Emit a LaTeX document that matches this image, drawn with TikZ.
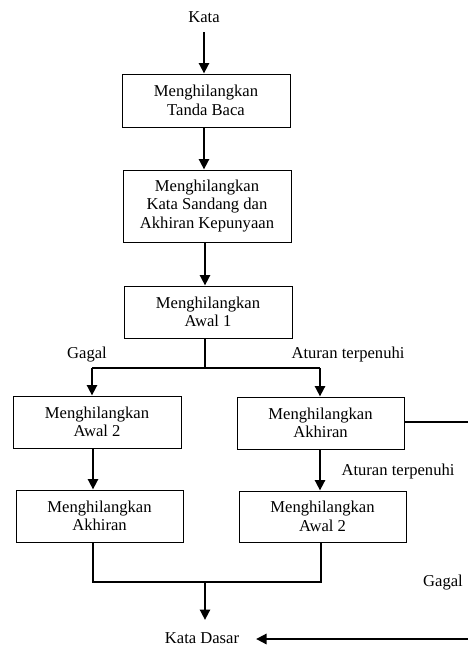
\documentclass[tikz,border=0pt]{standalone}
\usepackage{fontspec}
\setmainfont{Liberation Serif}
\usetikzlibrary{arrows.meta}
\begin{document}
\begin{tikzpicture}[x=1pt,y=-1pt,
  every node/.style={font=\fontsize{16.6}{18.4}\selectfont},
  proc/.style={draw,line width=1pt,align=center,inner sep=0pt},
  flow/.style={line width=2.8pt,-{Triangle[length=10.5pt,width=10pt]}},
  link/.style={line width=2.8pt},
  thinlink/.style={line width=2pt},
  lbl/.style={inner sep=0pt}]
\useasboundingbox (0,0) rectangle (468,646);

% processing steps
\node[proc,minimum width=168,minimum height=53] (tanda) at (206,100.5) {Menghilangkan\\Tanda Baca};
\node[proc,minimum width=168,minimum height=72] (sandang) at (207,206) {Menghilangkan\\Kata Sandang dan\\Akhiran Kepunyaan};
\node[proc,minimum width=168,minimum height=52] (awal1) at (208,312) {Menghilangkan\\Awal 1};
\node[proc,minimum width=168,minimum height=52] (lawal2) at (97,422) {Menghilangkan\\Awal 2};
\node[proc,minimum width=167,minimum height=52] (rakhir) at (320.5,423) {Menghilangkan\\Akhiran};
\node[proc,minimum width=167,minimum height=52] (lakhir) at (99.5,516) {Menghilangkan\\Akhiran};
\node[proc,minimum width=167,minimum height=51] (rawal2) at (322.5,516.5) {Menghilangkan\\Awal 2};

% input and output words
\node[lbl] (kata) at (204,17) {Kata};
\node[lbl] (dasar) at (202,638) {Kata Dasar};

% edge labels
\node[lbl] at (87,355) {Gagal};
\node[lbl] at (348,355) {Aturan terpenuhi};
\node[lbl] at (398,472) {Aturan terpenuhi};
\node[lbl] at (443,583) {Gagal};

% junction points
\coordinate (split) at (205,368);
\coordinate (merge) at (205,582);
\coordinate (edgeA) at (468,422);
\coordinate (edgeB) at (468,639);
\coordinate (dasarIn) at (256,639);

% main chain
\draw[flow] (kata.south |- 0,32) -- (tanda.north -| kata.south);
\draw[flow] (tanda.south -| 204,0) -- (sandang.north -| 204,0);
\draw[flow] (sandang.south -| 205,0) -- (awal1.north -| 205,0);

% branch after Awal 1
\draw[thinlink] (awal1.south -| split) -- (split);
\draw[link] (split) -- (split -| 92,0);
\draw[link] (split) -- (split -| 320,0);
\draw[flow] (split -| 92,0) -- (lawal2.north -| 92,0);
\draw[flow] (split -| 320,0) -- (rakhir.north -| 320,0);

% second column steps
\draw[flow] (lawal2.south -| 93,0) -- (lakhir.north -| 93,0);
\draw[flow] (rakhir.south -| 320,0) -- (rawal2.north -| 320,0);

% failure path leaving the Akhiran step
\draw[link] (rakhir.east |- edgeA) -- (edgeA);

% merge into the root word
\draw[thinlink] (lakhir.south -| 93,0) -- (merge -| 93,0) -- (merge -| 321,0) -- (rawal2.south -| 321,0);
\draw[flow] (merge) -- (merge |- 0,620);
\draw[flow] (edgeB) -- (dasarIn);
\end{tikzpicture}
\end{document}
